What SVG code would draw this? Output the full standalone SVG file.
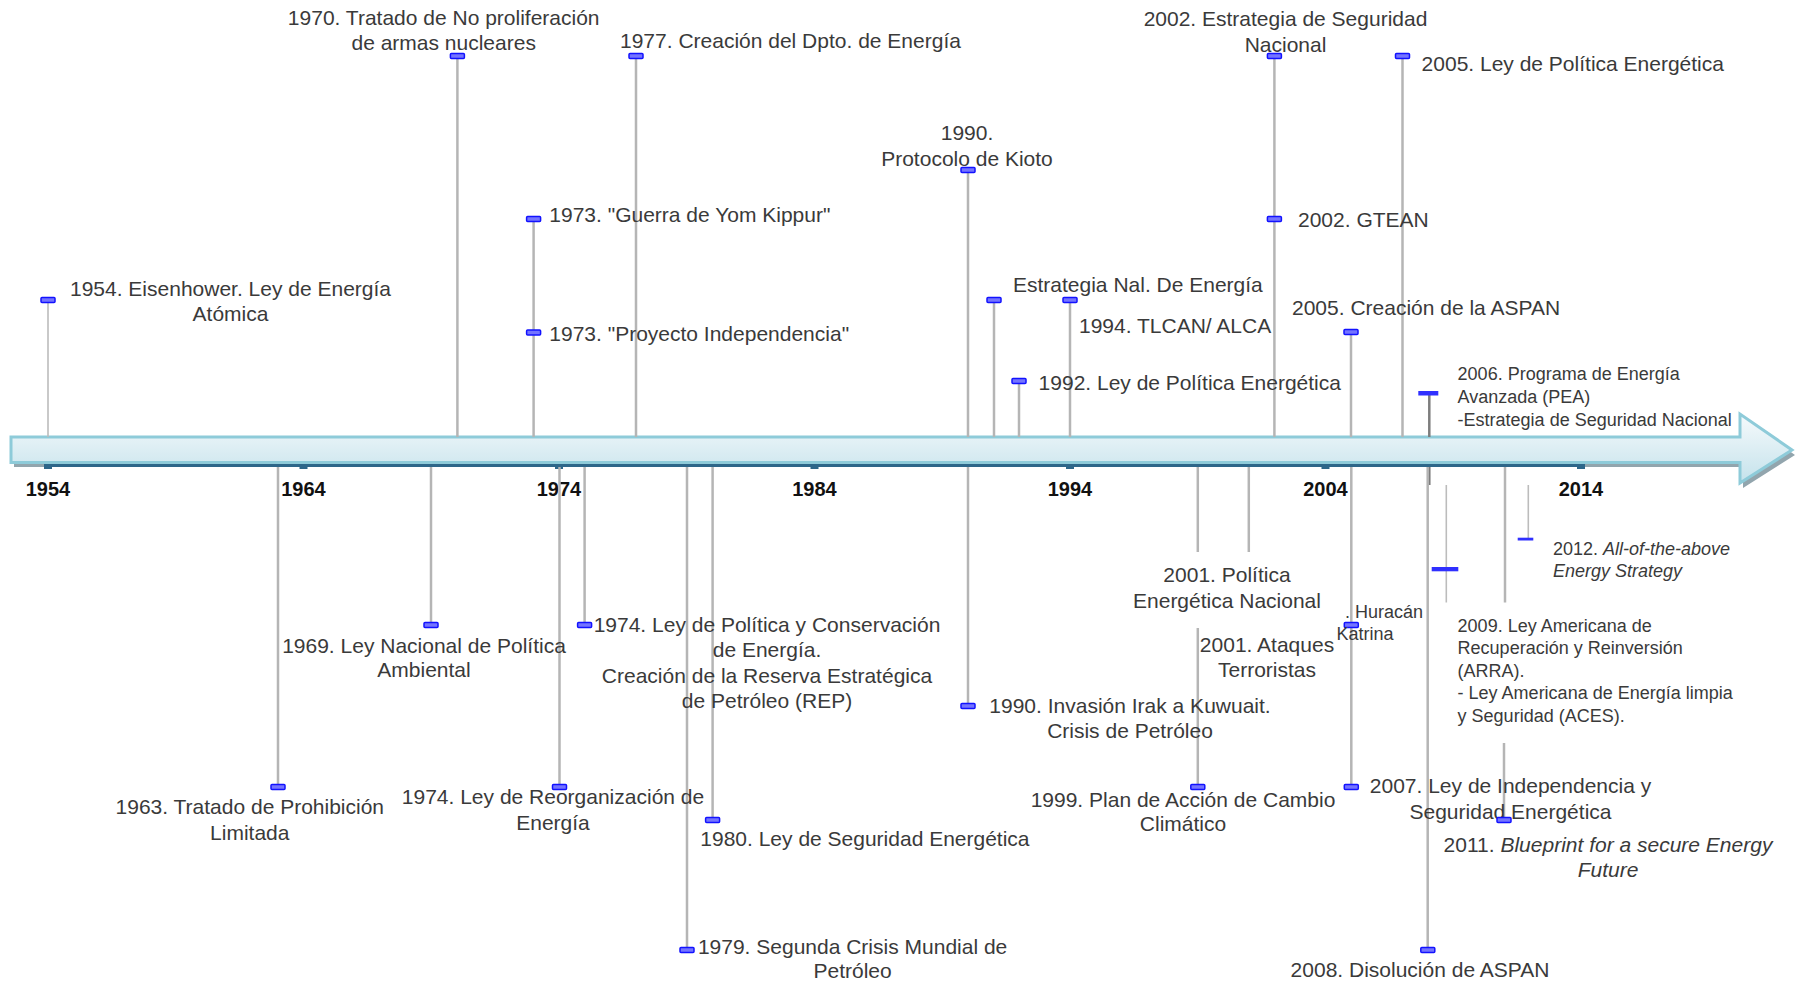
<svg xmlns="http://www.w3.org/2000/svg" width="1801" height="983" viewBox="0 0 1801 983">
<style>
  .t { font-family: "Liberation Sans", Arial, sans-serif; font-size: 21px; fill: #3a3a3a; }
  .s { font-family: "Liberation Sans", Arial, sans-serif; font-size: 18px; fill: #3a3a3a; }
  .m { text-anchor: middle; }
  .yr { font-family: "Liberation Sans", Arial, sans-serif; font-size: 20px; font-weight: bold; fill: #111; text-anchor: middle; }
  .stem { stroke: #b5b5b5; stroke-width: 2.5; fill: none; }
  .thin { stroke: #bcbcbc; stroke-width: 1.6; fill: none; }
  .dark { stroke: #7d7d7d; stroke-width: 2.5; fill: none; }
  .mk { fill: #7474ff; stroke: #1212ff; stroke-width: 1.5; }
  .bar { fill: #3030ff; }
  i, .it { font-style: italic; }
</style>
<defs>
  <linearGradient id="shaft" x1="0" y1="0" x2="0" y2="1">
    <stop offset="0" stop-color="#f6fafc"/>
    <stop offset="1" stop-color="#c4e2eb"/>
  </linearGradient>
  <rect id="tag" x="-7" y="-2.5" width="14" height="5" rx="1"/>
</defs>

<!-- timeline arrow -->
<g id="timeline">
  <polygon points="14,441 1743,441 1743,418 1795,455 1743,488 1743,467 14,467" fill="#92a5ad"/>
  <polygon points="11,437 1740,437 1740,414 1792,450 1740,483 1740,462.5 11,462.5" fill="url(#shaft)" stroke="#8ecbd9" stroke-width="3" stroke-linejoin="miter"/>
  <rect x="44" y="464" width="1538" height="3" fill="#2d6689"/>
  <g fill="#2d6689">
    <rect x="44" y="464" width="8" height="5"/>
    <rect x="299.5" y="464" width="8" height="5"/>
    <rect x="555" y="464" width="8" height="5"/>
    <rect x="810.5" y="464" width="8" height="5"/>
    <rect x="1066" y="464" width="8" height="5"/>
    <rect x="1321.5" y="464" width="8" height="5"/>
    <rect x="1577" y="464" width="8" height="5"/>
  </g>
  <text class="yr" x="48" y="496">1954</text>
  <text class="yr" x="303.5" y="496">1964</text>
  <text class="yr" x="559" y="496">1974</text>
  <text class="yr" x="814.5" y="496">1984</text>
  <text class="yr" x="1070" y="496">1994</text>
  <text class="yr" x="1325.5" y="496">2004</text>
  <text class="yr" x="1581" y="496">2014</text>
</g>

<!-- connectors (stems) -->
<g id="connectors">
  <line class="thin" x1="48" y1="302" x2="48" y2="437"/>
  <line class="stem" x1="457.4" y1="58" x2="457.4" y2="437"/>
  <line class="stem" x1="533.6" y1="221" x2="533.6" y2="437"/>
  <line class="stem" x1="636" y1="58" x2="636" y2="437"/>
  <line class="stem" x1="968" y1="172" x2="968" y2="437"/>
  <line class="stem" x1="994" y1="302" x2="994" y2="437"/>
  <line class="stem" x1="1019" y1="383" x2="1019" y2="437"/>
  <line class="stem" x1="1070" y1="302" x2="1070" y2="437"/>
  <line class="stem" x1="1274.4" y1="58" x2="1274.4" y2="437"/>
  <line class="stem" x1="1351" y1="334" x2="1351" y2="437"/>
  <line class="stem" x1="1402.5" y1="58" x2="1402.5" y2="437"/>
  <line class="dark" x1="1429.3" y1="395" x2="1429.3" y2="437"/>
  <line class="dark" x1="1429.3" y1="467" x2="1429.3" y2="485"/>

  <line class="stem" x1="278" y1="467" x2="278" y2="785"/>
  <line class="stem" x1="431" y1="467" x2="431" y2="623"/>
  <line class="stem" x1="559.5" y1="467" x2="559.5" y2="785"/>
  <line class="stem" x1="584.6" y1="467" x2="584.6" y2="623"/>
  <line class="stem" x1="687" y1="467" x2="687" y2="948"/>
  <line class="stem" x1="712.6" y1="467" x2="712.6" y2="818"/>
  <line class="stem" x1="968" y1="467" x2="968" y2="704"/>
  <line class="stem" x1="1197.8" y1="467" x2="1197.8" y2="552"/>
  <line class="stem" x1="1248.8" y1="467" x2="1248.8" y2="552"/>
  <line class="stem" x1="1197.8" y1="628" x2="1197.8" y2="785"/>
  <line class="stem" x1="1351.3" y1="467" x2="1351.3" y2="785"/>
  <line class="stem" x1="1427.7" y1="467" x2="1427.7" y2="948"/>
  <line class="thin" x1="1446.3" y1="485" x2="1446.3" y2="602.5"/>
  <line class="stem" x1="1505" y1="467" x2="1505" y2="602.5"/>
  <line class="stem" x1="1504" y1="743" x2="1504" y2="818"/>
  <line class="thin" x1="1528.3" y1="485" x2="1528.3" y2="538"/>
</g>

<!-- events above the timeline -->
<g id="e1954">
  <use href="#tag" class="mk" x="48" y="300"/>
  <text class="t m" x="230.5" y="296">1954. Eisenhower. Ley de Energía</text>
  <text class="t m" x="230.5" y="321">Atómica</text>
</g>
<g id="e1970">
  <use href="#tag" class="mk" x="457.4" y="56"/>
  <text class="t m" x="443.7" y="25">1970. Tratado de No proliferación</text>
  <text class="t m" x="443.7" y="50">de armas nucleares</text>
</g>
<g id="e1977">
  <use href="#tag" class="mk" x="636" y="56"/>
  <text class="t" x="620" y="48.3">1977. Creación del Dpto. de Energía</text>
</g>
<g id="e1973a">
  <use href="#tag" class="mk" x="533.6" y="219"/>
  <text class="t" x="549.3" y="222">1973. "Guerra de Yom Kippur"</text>
</g>
<g id="e1973b">
  <use href="#tag" class="mk" x="533.6" y="332.5"/>
  <text class="t" x="549.3" y="341">1973. "Proyecto Independencia"</text>
</g>
<g id="e1990a">
  <use href="#tag" class="mk" x="968" y="170"/>
  <text class="t m" x="967" y="140">1990.</text>
  <text class="t m" x="967" y="165.7">Protocolo de Kioto</text>
</g>
<g id="eEstrNal">
  <use href="#tag" class="mk" x="994" y="300"/>
  <text class="t" x="1013" y="292">Estrategia Nal. De Energía</text>
</g>
<g id="e1994">
  <use href="#tag" class="mk" x="1070" y="300"/>
  <text class="t" x="1079" y="333">1994. TLCAN/ ALCA</text>
</g>
<g id="e1992">
  <use href="#tag" class="mk" x="1019" y="381"/>
  <text class="t" x="1038.6" y="390">1992. Ley de Política Energética</text>
</g>
<g id="e2002a">
  <use href="#tag" class="mk" x="1274.4" y="56"/>
  <text class="t m" x="1285.5" y="26">2002. Estrategia de Seguridad</text>
  <text class="t m" x="1285.5" y="51.5">Nacional</text>
</g>
<g id="e2002b">
  <use href="#tag" class="mk" x="1274.4" y="219"/>
  <text class="t" x="1298" y="227">2002. GTEAN</text>
</g>
<g id="e2005a">
  <use href="#tag" class="mk" x="1402.5" y="56"/>
  <text class="t" x="1421.6" y="70.7">2005. Ley de Política Energética</text>
</g>
<g id="e2005b">
  <use href="#tag" class="mk" x="1351" y="332"/>
  <text class="t" x="1292" y="315">2005. Creación de la ASPAN</text>
</g>
<g id="e2006">
  <rect class="bar" x="1418.3" y="391" width="20" height="4.5"/>
  <text class="s" x="1457.6" y="380">2006. Programa de Energía</text>
  <text class="s" x="1457.6" y="403">Avanzada (PEA)</text>
  <text class="s" x="1457.6" y="426">-Estrategia de Seguridad Nacional</text>
</g>

<!-- events below the timeline -->
<g id="e1963">
  <use href="#tag" class="mk" x="278" y="787"/>
  <text class="t m" x="249.8" y="814">1963. Tratado de Prohibición</text>
  <text class="t m" x="249.8" y="840">Limitada</text>
</g>
<g id="e1969">
  <use href="#tag" class="mk" x="431" y="625"/>
  <text class="t m" x="424" y="652.7">1969. Ley Nacional de Política</text>
  <text class="t m" x="424" y="677.3">Ambiental</text>
</g>
<g id="e1974a">
  <use href="#tag" class="mk" x="559.5" y="787"/>
  <text class="t m" x="553" y="804">1974. Ley de Reorganización de</text>
  <text class="t m" x="553" y="830">Energía</text>
</g>
<g id="e1974b">
  <use href="#tag" class="mk" x="584.6" y="625"/>
  <text class="t m" x="767" y="631.7">1974. Ley de Política y Conservación</text>
  <text class="t m" x="767" y="656.7">de Energía.</text>
  <text class="t m" x="767" y="683.3">Creación de la Reserva Estratégica</text>
  <text class="t m" x="767" y="708.3">de Petróleo (REP)</text>
</g>
<g id="e1979">
  <use href="#tag" class="mk" x="687" y="950"/>
  <text class="t m" x="852.6" y="954">1979. Segunda Crisis Mundial de</text>
  <text class="t m" x="852.6" y="978.3">Petróleo</text>
</g>
<g id="e1980">
  <use href="#tag" class="mk" x="712.6" y="820"/>
  <text class="t" x="700.3" y="846">1980. Ley de Seguridad Energética</text>
</g>
<g id="e1990b">
  <use href="#tag" class="mk" x="968" y="706"/>
  <text class="t m" x="1130" y="712.7">1990. Invasión Irak a Kuwuait.</text>
  <text class="t m" x="1130" y="738.3">Crisis de Petróleo</text>
</g>
<g id="e2001a">
  <text class="t m" x="1227" y="582">2001. Política</text>
  <text class="t m" x="1227" y="608.3">Energética Nacional</text>
</g>
<g id="e2001b">
  <text class="t m" x="1267" y="651.7">2001. Ataques</text>
  <text class="t m" x="1267" y="676.7">Terroristas</text>
</g>
<g id="e1999">
  <use href="#tag" class="mk" x="1197.8" y="787"/>
  <text class="t m" x="1183" y="806.7">1999. Plan de Acción de Cambio</text>
  <text class="t m" x="1183" y="830.7">Climático</text>
</g>
<g id="eKatrina">
  <use href="#tag" class="mk" x="1351.3" y="625"/>
  <text class="s" x="1345" y="618.3">. Huracán</text>
  <text class="s" x="1336.6" y="640">Katrina</text>
</g>
<g id="e2007">
  <use href="#tag" class="mk" x="1351.3" y="787"/>
  <text class="t m" x="1510.5" y="793.3">2007. Ley de Independencia y</text>
  <text class="t m" x="1510.5" y="819.3">Seguridad Energética</text>
</g>
<g id="e2008">
  <use href="#tag" class="mk" x="1427.8" y="950"/>
  <text class="t m" x="1420" y="976.7">2008. Disolución de ASPAN</text>
</g>
<g id="e2009">
  <rect class="bar" x="1431.7" y="567" width="26.6" height="4.3"/>
  <text class="s" x="1457.6" y="631.5">2009. Ley Americana de</text>
  <text class="s" x="1457.6" y="654">Recuperación y Reinversión</text>
  <text class="s" x="1457.6" y="676.5">(ARRA).</text>
  <text class="s" x="1457.6" y="699">- Ley Americana de Energía limpia</text>
  <text class="s" x="1457.6" y="721.5">y Seguridad (ACES).</text>
</g>
<g id="e2011">
  <use href="#tag" class="mk" x="1504" y="820"/>
  <text class="t m" x="1608" y="851.7">2011. <tspan class="it">Blueprint for a secure Energy</tspan></text>
  <text class="t m it" x="1608" y="876.7">Future</text>
</g>
<g id="e2012">
  <rect class="bar" x="1517.7" y="537.7" width="15.6" height="2.8"/>
  <text class="s" x="1553" y="555">2012. <tspan class="it">All-of-the-above</tspan></text>
  <text class="s it" x="1553" y="576.7">Energy Strategy</text>
</g>
</svg>
